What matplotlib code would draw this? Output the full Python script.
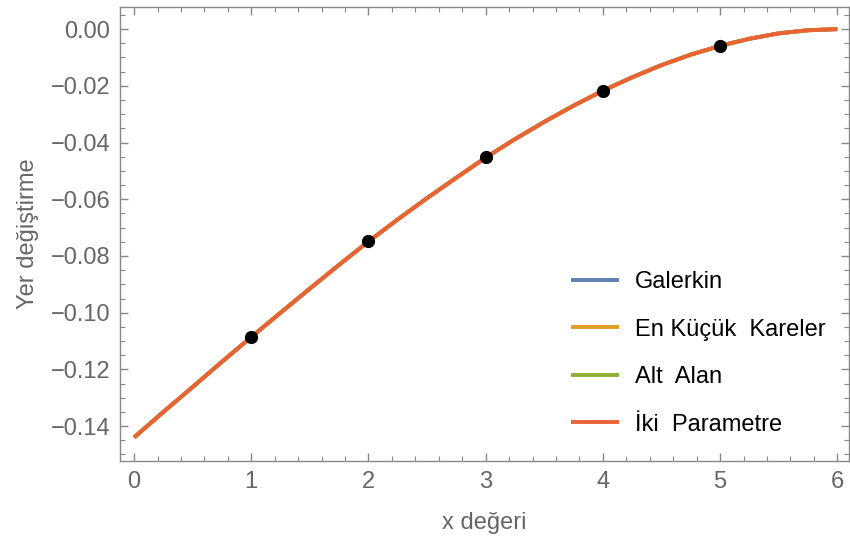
import matplotlib
matplotlib.use("Agg")
import matplotlib.pyplot as plt
from matplotlib.ticker import MultipleLocator, FuncFormatter

# ---- data ----
x_curve = [0.0, 0.25, 0.5, 0.75, 1.0, 1.25, 1.5, 1.75, 2.0, 2.25, 2.5, 2.75, 3.0,
           3.25, 3.5, 3.75, 4.0, 4.25, 4.5, 4.75, 5.0, 5.25, 5.5, 5.75, 6.0]
y_curve = [-0.1440, -0.1350, -0.1262, -0.1173, -0.1086, -0.1000, -0.0915, -0.0831,
           -0.0749, -0.0671, -0.0596, -0.0524, -0.0453, -0.0388, -0.0327, -0.0270,
           -0.0217, -0.0170, -0.0127, -0.0090, -0.0059, -0.0034, -0.0015, -0.0004, 0.0]
x_points = [1, 2, 3, 4, 5]
y_points = [-0.1085, -0.0748, -0.0451, -0.0217, -0.0059]
series_names = ["Galerkin", "En Küçük  Kareler", "Alt  Alan", "İki  Parametre"]
series_colors = ["#5E81B5", "#E19C24", "#8FB032", "#EB6235"]

plt.rcParams['font.family'] = ['Liberation Sans', 'DejaVu Sans']

fig = plt.figure(figsize=(8.5, 5.45), dpi=100)
ax = fig.add_axes([120/850, 1-461/545, 729/850, 454/545])

handles = []
for name, col in zip(series_names, series_colors):
    h, = ax.plot(x_curve, y_curve, color=col, lw=2.8, solid_capstyle='butt', label=name)
    handles.append(h)
ax.plot(x_points, y_points, 'o', color='black', ms=8.5, zorder=5)

ax.set_xlim(-0.12, 6.1)
ax.set_ylim(-0.1523, 0.0078)

ax.xaxis.set_major_locator(MultipleLocator(1))
ax.xaxis.set_minor_locator(MultipleLocator(0.2))
ax.yaxis.set_major_locator(MultipleLocator(0.02))
ax.yaxis.set_minor_locator(MultipleLocator(0.005))
ax.yaxis.set_major_formatter(FuncFormatter(lambda v, p: ("\u2212" if v < -1e-9 else "") + f"{abs(v):.2f}"))
ax.xaxis.set_major_formatter(FuncFormatter(lambda v, p: f"{v:.0f}"))

spine_col = "#888888"
for s in ax.spines.values():
    s.set_color(spine_col)
    s.set_linewidth(1.0)
ax.tick_params(which='both', direction='in', top=True, right=True, color=spine_col,
               labelcolor="#666666", labelsize=17)
ax.tick_params(which='major', length=6, width=1.0, pad=7)
ax.tick_params(which='minor', length=3.5, width=0.8)

ax.set_xlabel("x değeri", fontsize=17, color="#666666", labelpad=14)
ax.set_ylabel("Yer değiştirme", fontsize=17, color="#666666", labelpad=8)

leg = ax.legend(handles=handles, loc='upper left',
                bbox_to_anchor=(571/850, 1-271/545), bbox_transform=fig.transFigure,
                frameon=False, fontsize=17, handlelength=2.05, handletextpad=0.65,
                labelspacing=1.08, borderpad=0, borderaxespad=0)

fig.savefig("out.png", dpi=100)
